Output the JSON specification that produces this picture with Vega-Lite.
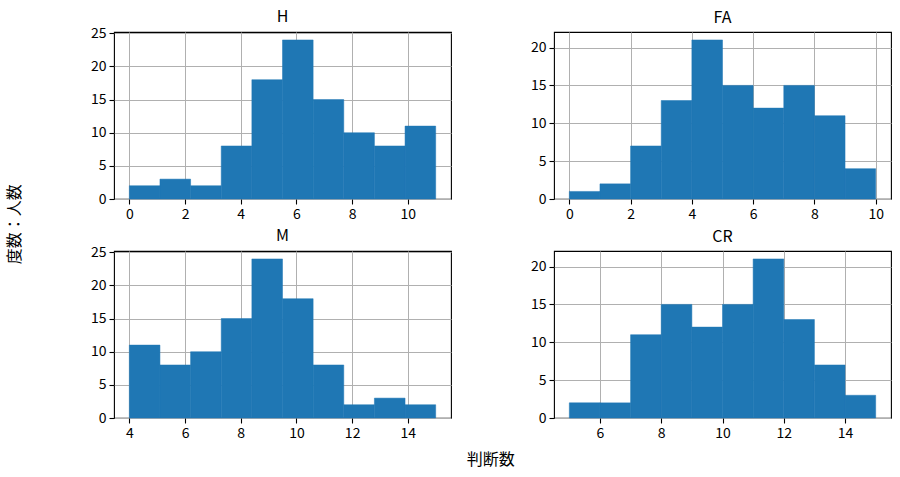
{
  "$schema": "https://vega.github.io/schema/vega-lite/v6.json",
  "padding": {"left": 6, "top": 8, "right": 5, "bottom": 5},
  "background": "white",
  "config": {
    "font": "Noto Sans CJK JP",
    "view": {"stroke": "black", "strokeWidth": 1.1},
    "axis": {
      "zindex": 1,
      "domain": false,
      "grid": true,
      "gridColor": "#b0b0b0",
      "gridWidth": 1,
      "tickColor": "black",
      "tickSize": 5,
      "tickWidth": 1.1,
      "labelFontSize": 14,
      "labelColor": "black",
      "labelPadding": 3,
      "title": null
    },
    "title": {"fontSize": 16, "fontWeight": "normal", "color": "black", "offset": 6}
  },
  "datasets": {
    "hist": [
      {"panel": "H", "lo": 0.0, "hi": 1.1, "count": 2},
      {"panel": "H", "lo": 1.1, "hi": 2.2, "count": 3},
      {"panel": "H", "lo": 2.2, "hi": 3.3, "count": 2},
      {"panel": "H", "lo": 3.3, "hi": 4.4, "count": 8},
      {"panel": "H", "lo": 4.4, "hi": 5.5, "count": 18},
      {"panel": "H", "lo": 5.5, "hi": 6.6, "count": 24},
      {"panel": "H", "lo": 6.6, "hi": 7.7, "count": 15},
      {"panel": "H", "lo": 7.7, "hi": 8.8, "count": 10},
      {"panel": "H", "lo": 8.8, "hi": 9.9, "count": 8},
      {"panel": "H", "lo": 9.9, "hi": 11.0, "count": 11},
      {"panel": "FA", "lo": 0, "hi": 1, "count": 1},
      {"panel": "FA", "lo": 1, "hi": 2, "count": 2},
      {"panel": "FA", "lo": 2, "hi": 3, "count": 7},
      {"panel": "FA", "lo": 3, "hi": 4, "count": 13},
      {"panel": "FA", "lo": 4, "hi": 5, "count": 21},
      {"panel": "FA", "lo": 5, "hi": 6, "count": 15},
      {"panel": "FA", "lo": 6, "hi": 7, "count": 12},
      {"panel": "FA", "lo": 7, "hi": 8, "count": 15},
      {"panel": "FA", "lo": 8, "hi": 9, "count": 11},
      {"panel": "FA", "lo": 9, "hi": 10, "count": 4},
      {"panel": "M", "lo": 4.0, "hi": 5.1, "count": 11},
      {"panel": "M", "lo": 5.1, "hi": 6.2, "count": 8},
      {"panel": "M", "lo": 6.2, "hi": 7.3, "count": 10},
      {"panel": "M", "lo": 7.3, "hi": 8.4, "count": 15},
      {"panel": "M", "lo": 8.4, "hi": 9.5, "count": 24},
      {"panel": "M", "lo": 9.5, "hi": 10.6, "count": 18},
      {"panel": "M", "lo": 10.6, "hi": 11.7, "count": 8},
      {"panel": "M", "lo": 11.7, "hi": 12.8, "count": 2},
      {"panel": "M", "lo": 12.8, "hi": 13.9, "count": 3},
      {"panel": "M", "lo": 13.9, "hi": 15.0, "count": 2},
      {"panel": "CR", "lo": 5, "hi": 6, "count": 2},
      {"panel": "CR", "lo": 6, "hi": 7, "count": 2},
      {"panel": "CR", "lo": 7, "hi": 8, "count": 11},
      {"panel": "CR", "lo": 8, "hi": 9, "count": 15},
      {"panel": "CR", "lo": 9, "hi": 10, "count": 12},
      {"panel": "CR", "lo": 10, "hi": 11, "count": 15},
      {"panel": "CR", "lo": 11, "hi": 12, "count": 21},
      {"panel": "CR", "lo": 12, "hi": 13, "count": 13},
      {"panel": "CR", "lo": 13, "hi": 14, "count": 7},
      {"panel": "CR", "lo": 14, "hi": 15, "count": 3}
    ]
  },
  "data": {"name": "hist"},
  "title": {"text": "度数：人数", "orient": "left", "anchor": "middle", "fontSize": 16, "offset": 67, "dx": 14},
  "vconcat": [
    {
      "title": {"text": "判断数", "orient": "bottom", "anchor": "middle", "fontSize": 16, "offset": 11},
      "spacing": 5,
      "vconcat": [
        {
          "spacing": 77,
          "hconcat": [
            {
              "title": {"text": "H", "offset": 1},
              "width": 337, "height": 167,
              "transform": [{"filter": "datum.panel == 'H'"}],
              "mark": {"type": "rect", "color": "#1f77b4", "stroke": "#1f77b4", "strokeWidth": 0.5},
              "encoding": {
                "x": {"field": "lo", "type": "quantitative", "scale": {"domain": [-0.55, 11.55], "nice": false}, "axis": {"values": [0, 2, 4, 6, 8, 10]}},
                "x2": {"field": "hi"},
                "y": {"field": "count", "type": "quantitative", "scale": {"domain": [0, 25.2], "nice": false}, "axis": {"values": [0, 5, 10, 15, 20, 25]}},
                "y2": {"datum": 0}
              }
            },
            {
              "title": {"text": "FA", "offset": 6},
              "width": 337, "height": 167,
              "transform": [{"filter": "datum.panel == 'FA'"}],
              "mark": {"type": "rect", "color": "#1f77b4", "stroke": "#1f77b4", "strokeWidth": 0.5},
              "encoding": {
                "x": {"field": "lo", "type": "quantitative", "scale": {"domain": [-0.5, 10.5], "nice": false}, "axis": {"values": [0, 2, 4, 6, 8, 10]}},
                "x2": {"field": "hi"},
                "y": {"field": "count", "type": "quantitative", "scale": {"domain": [0, 22.05], "nice": false}, "axis": {"values": [0, 5, 10, 15, 20]}},
                "y2": {"datum": 0}
              }
            }
          ]
        },
        {
          "spacing": 77,
          "hconcat": [
            {
              "title": {"text": "M", "offset": 1},
              "width": 337, "height": 167,
              "transform": [{"filter": "datum.panel == 'M'"}],
              "mark": {"type": "rect", "color": "#1f77b4", "stroke": "#1f77b4", "strokeWidth": 0.5},
              "encoding": {
                "x": {"field": "lo", "type": "quantitative", "scale": {"domain": [3.45, 15.55], "nice": false}, "axis": {"values": [4, 6, 8, 10, 12, 14]}},
                "x2": {"field": "hi"},
                "y": {"field": "count", "type": "quantitative", "scale": {"domain": [0, 25.2], "nice": false}, "axis": {"values": [0, 5, 10, 15, 20, 25]}},
                "y2": {"datum": 0}
              }
            },
            {
              "title": {"text": "CR", "offset": 6},
              "width": 337, "height": 167,
              "transform": [{"filter": "datum.panel == 'CR'"}],
              "mark": {"type": "rect", "color": "#1f77b4", "stroke": "#1f77b4", "strokeWidth": 0.5},
              "encoding": {
                "x": {"field": "lo", "type": "quantitative", "scale": {"domain": [4.5, 15.5], "nice": false}, "axis": {"values": [6, 8, 10, 12, 14]}},
                "x2": {"field": "hi"},
                "y": {"field": "count", "type": "quantitative", "scale": {"domain": [0, 22.05], "nice": false}, "axis": {"values": [0, 5, 10, 15, 20]}},
                "y2": {"datum": 0}
              }
            }
          ]
        }
      ]
    }
  ]
}
